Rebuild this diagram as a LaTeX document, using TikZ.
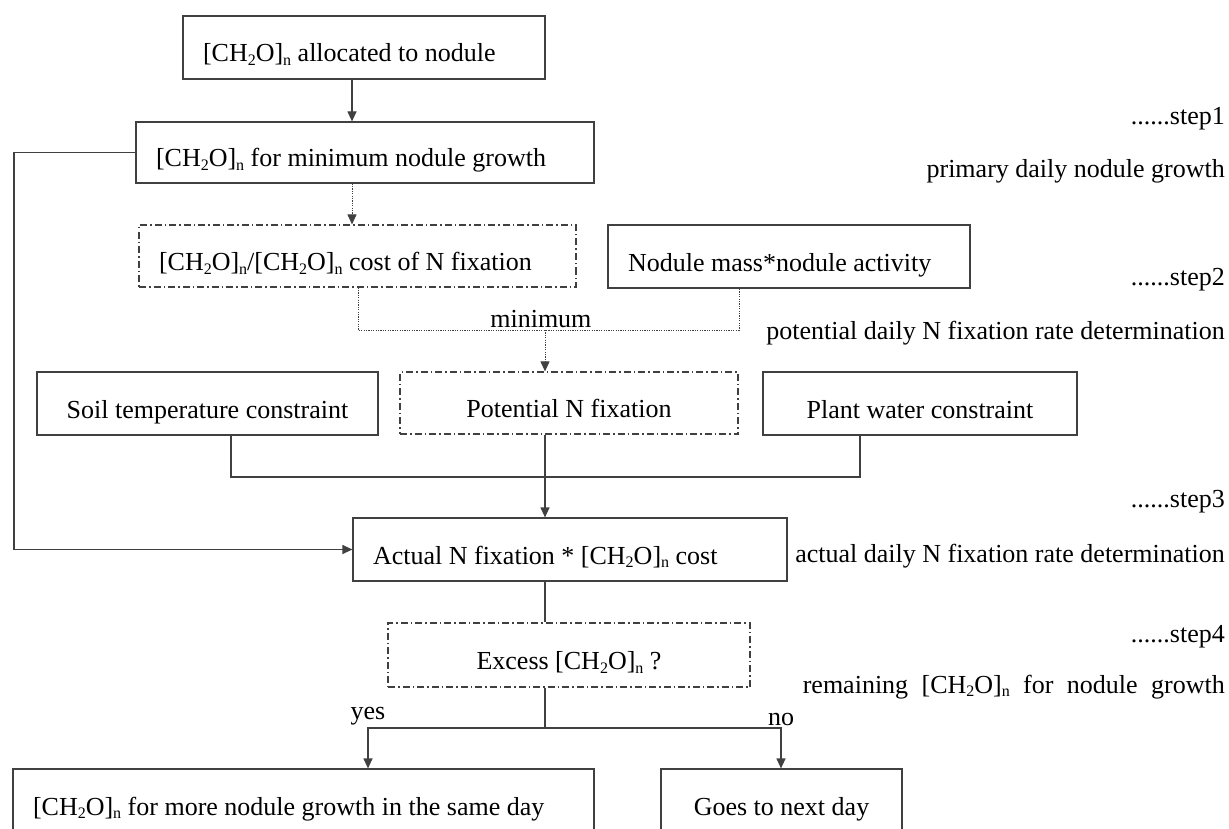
\documentclass[tikz,border=0pt]{standalone}
\usepackage{fontspec}
\setmainfont{Liberation Serif}
\usetikzlibrary{arrows.meta}

\newcommand{\lowidx}[1]{\raisebox{-0.15em}{\fontsize{16}{16}\selectfont #1}}
\newcommand{\chn}{[CH\lowidx{2}O]\lowidx{n}}

\begin{document}
\begin{tikzpicture}[
        x=1pt, y=1pt,
        >={Triangle[length=10pt, width=9pt]},
        font=\fontsize{26}{31}\selectfont,
    ]

    \tikzstyle{box} = [rectangle, minimum height=63pt, inner xsep=20pt,
                       text height=32pt, text depth=3pt, draw=black!75, line width=1.2pt]
    \tikzstyle{dashbox} = [box, dash pattern=on 7pt off 3pt on 1.5pt off 3pt]
    \tikzstyle{wire} = [draw=black!75, line width=1.2pt]
    \tikzstyle{dotline} = [draw=black!75, line width=1pt, dash pattern=on 1.2pt off 1.2pt]
    \tikzstyle{note} = [inner sep=0pt, anchor=base east]
    \tikzstyle{lab} = [inner sep=2pt]

    \useasboundingbox (0,0) rectangle (1229,-829);
    \clip (0,0) rectangle (1229,-829);

    % Nodes
    \node[box, text width=322pt, align=flush left] (alloc) at (364,-47.5) {\chn{} allocated to nodule};
    \node[box, text width=418pt, align=flush left, minimum height=61pt] (mingrowth) at (365,-152.5) {\chn{} for minimum nodule growth};
    \node[dashbox, text width=397pt, align=flush left, minimum height=62pt] (cost) at (357.5,-256) {\chn/\chn{} cost of N fixation};
    \node[box, text width=322pt, align=flush left] (noduleact) at (789,-256.5) {Nodule mass*nodule activity};
    \node[box, text width=301pt, align=flush center] (soil) at (207.5,-403.5) {Soil temperature constraint};
    \node[dashbox, text width=298pt, align=flush center, minimum height=62pt] (potential) at (569,-403) {Potential N fixation};
    \node[box, text width=274pt, align=flush center] (plant) at (920,-403.5) {Plant water constraint};
    \node[box, text width=394pt, align=flush left] (actual) at (570,-549.5) {Actual N fixation * \chn{} cost};
    \node[dashbox, text width=322pt, align=flush center, minimum height=64pt] (excess) at (569,-655) {Excess \chn{} ?};
    \node[box, text width=541pt, align=flush left] (more) at (303.5,-800.5) {\chn{} for more nodule growth in the same day};
    \node[box, text width=201pt, align=flush center] (goes) at (781.5,-800.5) {Goes to next day};

    % Step notes
    \node[note] (step1) at (1225,-125) {......step1};
    \node[note] (growth1) at (1225,-178) {primary daily nodule growth};
    \node[note] (step2) at (1225,-285) {......step2};
    \node[note] (rate2) at (1225,-339) {potential daily N fixation rate determination};
    \node[note] (step3) at (1225,-507) {......step3};
    \node[note] (rate3) at (1225,-562) {actual daily N fixation rate determination};
    \node[note] (step4) at (1225,-642) {......step4};
    \node[note] (rest4) at (1225,-693) {\makebox[422pt][s]{remaining \chn{} for nodule growth}};

    % Bend points
    \coordinate (c1) at (352,0);
    \coordinate (mL) at (358,-330);
    \coordinate (mM) at (545,-330);
    \coordinate (mR) at (739,-330);
    \coordinate (sL) at (231,-477);
    \coordinate (sR) at (860,-477);
    \coordinate (fx) at (14,-350);
    \coordinate (split) at (545,-728);
    \coordinate (yx) at (368,-728);
    \coordinate (nx) at (781,-728);

    % Arrows
    \draw[wire, ->] (alloc.south -| c1) -- (mingrowth.north -| c1);
    \draw[dotline, ->] (mingrowth.south -| c1) -- (cost.north -| c1);
    \draw[dotline] (cost.south -| mL) -- (mL) -- (mR) node[lab, pos=0.48, above] {minimum}
        -- (noduleact.south -| mR);
    \draw[dotline, ->] (mM) -- (potential.north -| mM);
    \draw[wire] (soil.south -| sL) -- (sL) -- (sR) -- (plant.south -| sR);
    \draw[wire, ->] (potential.south -| mM) -- (actual.north -| mM);
    \draw[wire] (actual.south -| mM) -- (excess.north -| mM);
    \draw[wire] (excess.south -| mM) -- (split);
    \draw[wire, ->] (split) -- (yx) node[lab, above] {yes} -- (more.north -| yx);
    \draw[wire, ->] (split) -- (nx) node[lab, above] {no} -- (goes.north -| nx);

    % Return arrow
    \draw[wire, ->] (mingrowth.west) -| (fx) |- (actual.west);

\end{tikzpicture}
\end{document}
